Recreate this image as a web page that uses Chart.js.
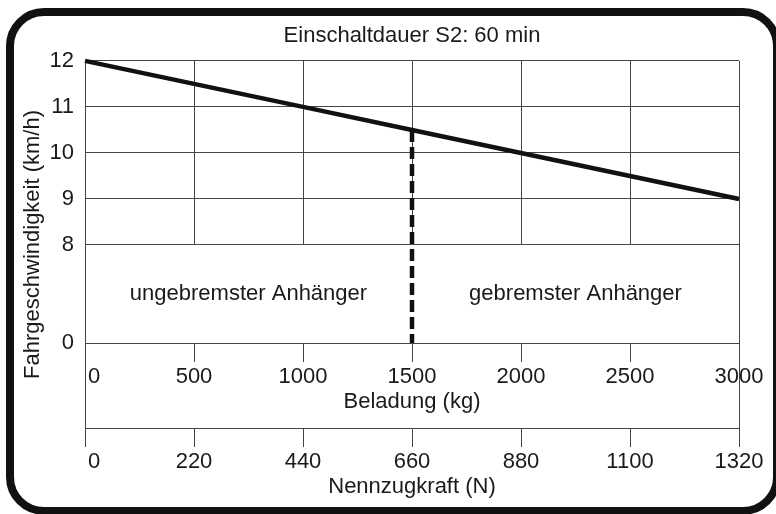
<!DOCTYPE html>
<html>
<head>
<meta charset="utf-8">
<script src="https://cdn.jsdelivr.net/npm/chart.js@4"></script>
<style>
  html, body { margin: 0; padding: 0; background: #fff; overflow: hidden; }
  #wrap { position: relative; width: 776px; height: 514px; }
  #frame {
    position: absolute; left: 6px; top: 8px; width: 775px; height: 507px;
    box-sizing: border-box; border: 8px solid #111; border-radius: 38px;
    pointer-events: none;
  }
</style>
</head>
<body>
<div id="wrap">
  <canvas id="speedChart" width="776" height="514"></canvas>
  <div id="frame"></div>
</div>
<script>
// data
const loadKg = [0, 500, 1000, 1500, 2000, 2500, 3000];
const speedKmh = [12, 11.5, 11, 10.5, 10, 9.5, 9];
const speedTicks = [0, 8, 9, 10, 11, 12];
const pullTicks = [0, 220, 440, 660, 880, 1100, 1320];
const limitLoad = [1500, 1500];
const limitSpeed = [10.5, 0];
const zoneNames = ['ungebremster Anhänger', 'gebremster Anhänger'];
const zoneFrom = [0, 1500];
const zoneTo = [1500, 3000];

// the speed axis is broken between 0 and 8
const BREAK_AT = 8;
const BREAK_SPAN = 2.13;
const toAxis = v => v >= BREAK_AT ? v : BREAK_AT - BREAK_SPAN * (BREAK_AT - v) / BREAK_AT;

const FONT = { family: "'Liberation Sans', Arial, sans-serif", size: 22, weight: 'normal' };
const INK = '#1a1a1a';
const GRID = '#444';

// blank the gap band, draw the lower frame, zone texts and y title
const diagramParts = {
    id: 'diagramParts',
    beforeDatasetsDraw(chart) {
        const { ctx, scales: { x, y, x2 } } = chart;
        const xl = Math.floor(x.getPixelForValue(0));
        const xr = Math.floor(x.getPixelForValue(3000));
        const yt = Math.floor(y.getPixelForValue(toAxis(8)));
        const yb = Math.floor(y.getPixelForValue(toAxis(0)));
        ctx.save();
        ctx.fillStyle = '#fff';
        ctx.fillRect(xl + 1, yt + 1, xr - xl - 1, yb - yt - 1);
        ctx.strokeStyle = GRID;
        ctx.lineWidth = 1;
        ctx.beginPath();
        ctx.moveTo(xl + 0.5, yb);
        ctx.lineTo(xl + 0.5, Math.floor(x2.top) + 1);
        ctx.moveTo(xr + 0.5, yb);
        ctx.lineTo(xr + 0.5, Math.floor(x2.top) + 1);
        ctx.stroke();

        ctx.fillStyle = INK;
        ctx.font = `${FONT.size}px ${FONT.family}`;
        ctx.textAlign = 'center';
        ctx.textBaseline = 'middle';
        const ym = (y.getPixelForValue(toAxis(8)) + y.getPixelForValue(toAxis(0))) / 2;
        zoneNames.forEach((name, i) => {
            const xm = (x.getPixelForValue(zoneFrom[i]) + x.getPixelForValue(zoneTo[i])) / 2;
            ctx.fillText(name, xm, ym);
        });

        ctx.translate(chart.chartArea.left - 52, (chart.chartArea.top + x2.top) / 2);
        ctx.rotate(-Math.PI / 2);
        ctx.fillText('Fahrgeschwindigkeit (km/h)', 0, 0);
        ctx.restore();
    }
};

const speedData = {
    datasets: [
        {
            data: loadKg.map((v, i) => ({ x: v, y: toAxis(speedKmh[i]) })),
            borderColor: '#111',
            borderWidth: 4.5,
            pointRadius: 0,
            clip: false
        },
        {
            data: limitLoad.map((v, i) => ({ x: v, y: toAxis(limitSpeed[i]) })),
            borderColor: '#111',
            borderWidth: 4.5,
            borderDash: [12, 5],
            pointRadius: 0,
            clip: false
        }
    ]
};

const speedConfig = {
    type: 'line',
    data: speedData,
    options: {
        responsive: false,
        animation: false,
        layout: { padding: { left: 0, right: 37, top: 0, bottom: 6 } },
        plugins: {
            legend: { display: false },
            tooltip: { enabled: false },
            title: {
                display: true,
                text: 'Einschaltdauer S2: 60 min',
                fullSize: false,
                color: INK,
                font: FONT,
                padding: { top: 23, bottom: 11.5 }
            }
        },
        scales: {
            x: {
                type: 'linear',
                position: 'bottom',
                min: 0,
                max: 3000,
                afterBuildTicks: s => { s.ticks = loadKg.map(v => ({ value: v })); },
                ticks: {
                    callback: (v, i) => i === 0 ? '   0' : String(v),
                    color: INK,
                    font: FONT,
                    padding: 2,
                    maxRotation: 0,
                    autoSkip: false
                },
                grid: { color: GRID, tickColor: GRID, tickLength: 19 },
                border: { color: GRID },
                title: {
                    display: true,
                    text: 'Beladung (kg)',
                    color: INK,
                    font: FONT,
                    padding: { top: 0, bottom: 13 }
                },
                afterFit: s => { s.height = 85; }
            },
            x2: {
                type: 'linear',
                position: 'bottom',
                min: 0,
                max: 1320,
                afterBuildTicks: s => { s.ticks = pullTicks.map(v => ({ value: v })); },
                ticks: {
                    callback: (v, i) => i === 0 ? '   0' : String(v),
                    color: INK,
                    font: FONT,
                    padding: 2,
                    maxRotation: 0,
                    autoSkip: false
                },
                grid: { drawOnChartArea: false, tickColor: GRID, tickLength: 19 },
                border: { color: GRID },
                title: {
                    display: true,
                    text: 'Nennzugkraft (N)',
                    color: INK,
                    font: FONT,
                    padding: { top: 0, bottom: 8 }
                },
                afterFit: s => { s.height = 80; }
            },
            y: {
                type: 'linear',
                min: toAxis(0),
                max: 12,
                afterBuildTicks: s => { s.ticks = speedTicks.map(v => ({ value: toAxis(v) })); },
                ticks: {
                    callback: (v, i) => String(speedTicks[i]),
                    color: INK,
                    font: FONT,
                    padding: 11
                },
                grid: { color: GRID, drawTicks: false },
                border: { color: GRID },
                afterFit: s => { s.width = 85; }
            }
        }
    },
    plugins: [diagramParts]
};

const speedChart = new Chart(document.querySelector('#speedChart'), speedConfig);
</script>
</body>
</html>
